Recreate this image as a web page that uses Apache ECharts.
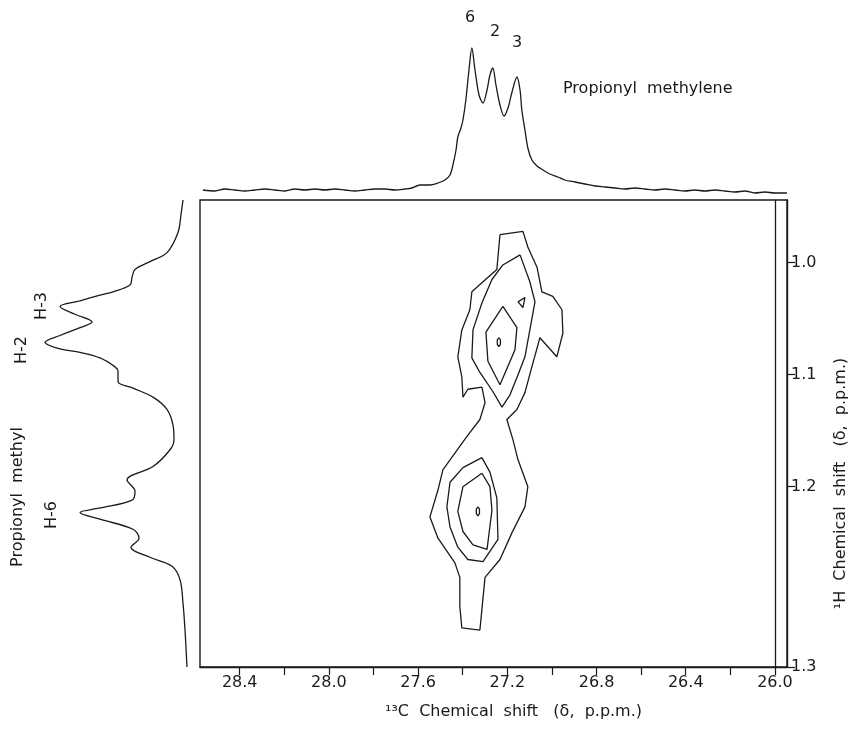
<!DOCTYPE html>
<html>
<head>
<meta charset="utf-8">
<title>Propionyl 2D NMR</title>
<script src="https://cdn.jsdelivr.net/npm/echarts@6.0.0/dist/echarts.min.js"></script>
<style>
  html, body { margin: 0; padding: 0; background: #fff; }
  #chart { width: 859px; height: 735px; }
</style>
</head>
<body>
<div id="chart"></div>
<script>
// 13C axis (ppm) and 1H axis (ppm)
const cRange = [25.946, 28.578]
const hRange = [0.944, 1.361]
const cTicks = [26.0, 26.2, 26.4, 26.6, 26.8, 27.0, 27.2, 27.4, 27.6, 27.8, 28.0, 28.2, 28.4]
const cLabels = [26.0, 26.4, 26.8, 27.2, 27.6, 28.0, 28.4]
const hTickValues = [1.0, 1.1, 1.2, 1.361]
const hTickLabels = ['1.0', '1.1', '1.2', '1.3']

// top trace: propionyl methylene (13C ppm, intensity)
const topSpectrum = [
  [28.565, 5], [28.511, 4], [28.466, 6], [28.422, 5], [28.377, 4], [28.332, 5],
  [28.287, 6], [28.242, 5], [28.197, 4], [28.152, 6], [28.108, 5], [28.063, 6],
  [28.018, 5], [27.973, 6], [27.928, 5], [27.883, 4], [27.839, 5], [27.794, 6],
  [27.749, 6], [27.704, 5], [27.659, 6], [27.628, 7], [27.592, 10], [27.547, 10],
  [27.511, 12], [27.480, 15], [27.457, 20], [27.444, 30], [27.430, 45], [27.422, 58],
  [27.408, 67], [27.399, 75], [27.386, 95], [27.372, 125], [27.359, 147], [27.345, 125],
  [27.327, 100], [27.309, 92], [27.291, 105], [27.278, 120], [27.265, 127], [27.251, 110],
  [27.233, 90], [27.215, 79], [27.197, 87], [27.179, 103], [27.157, 118], [27.143, 105],
  [27.135, 85], [27.121, 65], [27.108, 47], [27.090, 35], [27.067, 29], [27.040, 25],
  [27.009, 21], [26.973, 18], [26.942, 15], [26.897, 13], [26.852, 11], [26.807, 9],
  [26.762, 8], [26.717, 7], [26.673, 6], [26.628, 7], [26.583, 6], [26.538, 5],
  [26.493, 6], [26.448, 5], [26.404, 4], [26.359, 5], [26.314, 4], [26.269, 5],
  [26.224, 4], [26.179, 3], [26.135, 4], [26.090, 2], [26.045, 3], [26.000, 2], [25.946, 2]
]

// left trace: propionyl methyl (intensity, 1H ppm)
const leftSpectrum = [
  [7, 0.944], [9, 0.957], [12, 0.973], [23, 0.991], [40, 0.999], [55, 1.006],
  [58, 1.013], [60, 1.020], [77, 1.026], [90, 1.029], [110, 1.034], [130, 1.039],
  [115, 1.046], [98, 1.053], [110, 1.058], [130, 1.065], [145, 1.071], [130, 1.077],
  [110, 1.080], [90, 1.085], [75, 1.093], [72, 1.097], [72, 1.106], [57, 1.112],
  [37, 1.120], [23, 1.131], [17, 1.145], [16, 1.158], [20, 1.167], [37, 1.182],
  [63, 1.194], [55, 1.204], [58, 1.212], [90, 1.219], [110, 1.223], [90, 1.229],
  [57, 1.238], [51, 1.246], [59, 1.254], [40, 1.263], [18, 1.271], [10, 1.283],
  [7, 1.304], [5, 1.328], [3, 1.361]
]

// contour rings, [13C ppm, 1H ppm]
const contourOuter = [
  [27.233, 0.975], [27.130, 0.972], [27.108, 0.986], [27.067, 1.004], [27.045, 1.026],
  [26.996, 1.030], [26.955, 1.042], [26.951, 1.063], [26.978, 1.084], [27.054, 1.067],
  [27.090, 1.093], [27.121, 1.116], [27.157, 1.131], [27.202, 1.140], [27.175, 1.158],
  [27.152, 1.176], [27.108, 1.200], [27.121, 1.218], [27.179, 1.241], [27.233, 1.265],
  [27.300, 1.281], [27.323, 1.328], [27.404, 1.326], [27.413, 1.307], [27.413, 1.281],
  [27.435, 1.268], [27.511, 1.246], [27.547, 1.227], [27.511, 1.203], [27.489, 1.185],
  [27.435, 1.170], [27.381, 1.155], [27.323, 1.140], [27.300, 1.125], [27.314, 1.111],
  [27.377, 1.113], [27.399, 1.120], [27.404, 1.102], [27.422, 1.084], [27.404, 1.060],
  [27.368, 1.042], [27.359, 1.026], [27.309, 1.017], [27.247, 1.006], [27.233, 0.975]
]
const contourUpperMid = [
  [27.143, 0.993], [27.099, 1.017], [27.076, 1.035], [27.099, 1.060], [27.121, 1.084],
  [27.152, 1.100], [27.188, 1.118], [27.224, 1.129], [27.265, 1.115], [27.323, 1.098],
  [27.359, 1.085], [27.354, 1.060], [27.314, 1.036], [27.269, 1.015], [27.220, 1.002],
  [27.143, 0.993]
]
const contourUpperSmall = [[27.152, 1.035], [27.121, 1.031], [27.130, 1.040], [27.152, 1.035]]
const contourUpperInner = [
  [27.220, 1.039], [27.157, 1.058], [27.166, 1.078], [27.233, 1.109], [27.287, 1.088],
  [27.296, 1.062], [27.220, 1.039]
]
const contourUpperTop = [
  [27.238, 1.067], [27.231, 1.069], [27.231, 1.073], [27.238, 1.075], [27.245, 1.073],
  [27.245, 1.069], [27.238, 1.067]
]
const contourLowerMid = [
  [27.314, 1.174], [27.278, 1.187], [27.247, 1.210], [27.242, 1.247], [27.309, 1.267],
  [27.377, 1.265], [27.422, 1.254], [27.457, 1.236], [27.471, 1.218], [27.457, 1.196],
  [27.399, 1.183], [27.314, 1.174]
]
const contourLowerInner = [
  [27.314, 1.188], [27.278, 1.200], [27.269, 1.221], [27.291, 1.256], [27.354, 1.252],
  [27.399, 1.240], [27.422, 1.222], [27.399, 1.200], [27.314, 1.188]
]
const contourLowerTop = [
  [27.332, 1.218], [27.325, 1.220], [27.325, 1.224], [27.332, 1.226], [27.339, 1.224],
  [27.339, 1.220], [27.332, 1.218]
]

const ink = '#1a1a1a'
const font = 'DejaVu Sans'

const chart = echarts.init(document.getElementById('chart'))

const ring = (data) => ({
  type: 'line',
  xAxisIndex: 0,
  yAxisIndex: 0,
  data: data,
  showSymbol: false,
  lineStyle: { color: ink, width: 1.3 },
  silent: true,
})

const note = (text, x, y, rot, align) => ({
  type: 'text',
  x: x,
  y: y,
  rotation: rot || 0,
  style: { text: text, font: '16px ' + font, fill: ink, align: align || 'center', verticalAlign: 'middle' },
})

const option = {
  backgroundColor: '#fff',
  animation: false,
  grid: [
    { left: 200, top: 200, width: 587, height: 467, show: true, borderColor: ink, borderWidth: 1.4 },
    { left: 200, top: 35, width: 587, height: 160 },
    { left: 30, top: 200, width: 160, height: 467 },
  ],
  xAxis: [
    {
      gridIndex: 0,
      type: 'value',
      inverse: true,
      min: cRange[0],
      max: cRange[1],
      splitLine: { show: false },
      axisLine: { lineStyle: { color: ink, width: 1.4 } },
      axisTick: { customValues: cTicks, length: 8, lineStyle: { color: ink, width: 1.2 } },
      axisLabel: {
        customValues: cLabels,
        margin: 8,
        color: ink,
        fontFamily: font,
        fontSize: 16,
        formatter: (v) => v.toFixed(1),
      },
      name: '¹³C  Chemical  shift   (δ,  p.p.m.)',
      nameLocation: 'middle',
      nameGap: 37,
      nameTextStyle: { color: ink, fontFamily: font, fontSize: 16, padding: [0, 0, 0, 40] },
    },
    { gridIndex: 1, type: 'value', inverse: true, min: cRange[0], max: cRange[1], show: false },
    { gridIndex: 2, type: 'value', inverse: true, min: 0, max: 160, show: false },
  ],
  yAxis: [
    {
      gridIndex: 0,
      type: 'value',
      inverse: true,
      position: 'right',
      min: hRange[0],
      max: hRange[1],
      splitLine: { show: false },
      axisLine: { lineStyle: { color: ink, width: 1.4 } },
      axisTick: { customValues: hTickValues, length: 8, lineStyle: { color: ink, width: 1.2 } },
      axisLabel: {
        customValues: hTickValues,
        margin: 4,
        color: ink,
        fontFamily: font,
        fontSize: 16,
        formatter: (v) => {
          const i = hTickValues.findIndex((t) => Math.abs(t - v) < 1e-6)
          return i >= 0 ? hTickLabels[i] : ''
        },
      },
      name: '¹H  Chemical  shift   (δ,  p.p.m.)',
      nameLocation: 'middle',
      nameGap: 46,
      nameTextStyle: { color: ink, fontFamily: font, fontSize: 16, padding: [0, 100, 0, 0] },
    },
    { gridIndex: 1, type: 'value', min: 0, max: 160, show: false },
    { gridIndex: 2, type: 'value', inverse: true, min: hRange[0], max: hRange[1], show: false },
  ],
  series: [
    {
      type: 'line',
      xAxisIndex: 1,
      yAxisIndex: 1,
      data: topSpectrum,
      showSymbol: false,
      smooth: 0.3,
      lineStyle: { color: ink, width: 1.3 },
      silent: true,
    },
    {
      type: 'line',
      xAxisIndex: 2,
      yAxisIndex: 2,
      data: leftSpectrum,
      showSymbol: false,
      smooth: 0.35,
      lineStyle: { color: ink, width: 1.3 },
      silent: true,
    },
    Object.assign(ring(contourOuter), {
      markLine: {
        silent: true,
        symbol: 'none',
        label: { show: false },
        lineStyle: { color: ink, width: 1.3, type: 'solid' },
        data: [{ xAxis: 26.0 }],
      },
    }),
    ring(contourUpperMid),
    ring(contourUpperSmall),
    ring(contourUpperInner),
    ring(contourUpperTop),
    ring(contourLowerMid),
    ring(contourLowerInner),
    ring(contourLowerTop),
  ],
  graphic: [
    note('6', 470, 18),
    note('2', 495, 32),
    note('3', 517, 43),
    note('Propionyl  methylene', 563, 89, 0, 'left'),
    note('H-2', 22, 350, Math.PI / 2),
    note('H-3', 42, 306, Math.PI / 2),
    note('Propionyl  methyl', 18, 497, Math.PI / 2),
    note('H-6', 52, 515, Math.PI / 2),
  ],
}

chart.setOption(option)
</script>
</body>
</html>
